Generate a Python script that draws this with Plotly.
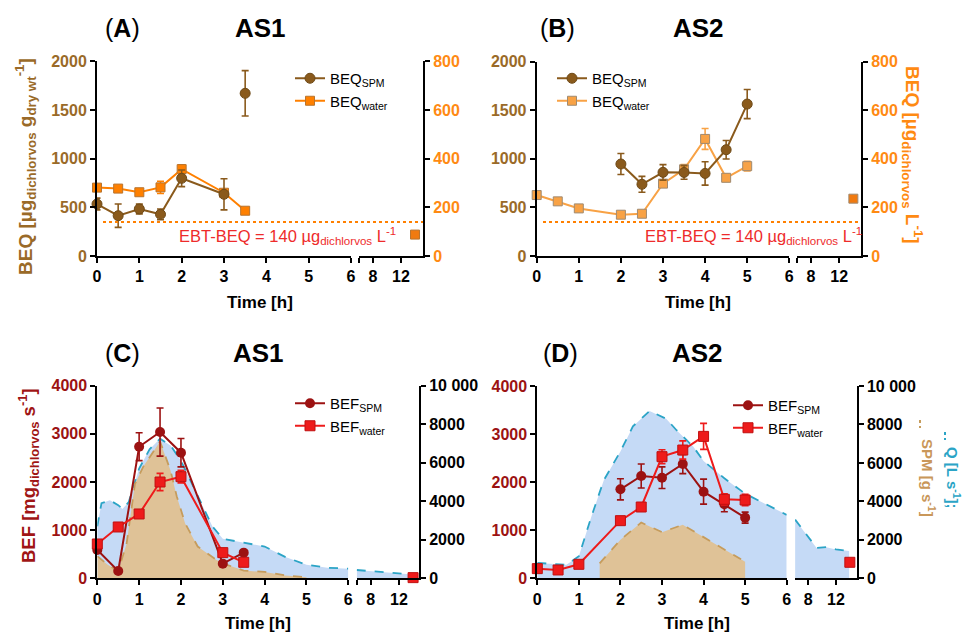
import plotly.graph_objects as go

W, H = 964, 633
FONT = "Liberation Sans, Arial, Helvetica, sans-serif"

# ---------------- data ----------------
# (A) AS1 - BEQ
a_spm_t = [0, 0.5, 1, 1.5, 2, 3, 3.5]
a_spm = [534, 414, 483, 428, 798, 634, 1671]
a_spm_err = [60, 120, 50, 55, 85, 160, 233]
a_wat_t = [0, 0.5, 1, 1.5, 2, 3, 3.5]
a_wat = [281, 277, 262, 282, 357, 260, 186]
a_wat_err = [8, 6, 10, 25, 18, 12, 5]
a_wat_late_t = [14]
a_wat_late = [88]

# (B) AS2 - BEQ
b_spm_t = [2, 2.5, 3, 3.5, 4, 4.5, 5]
b_spm = [947, 738, 861, 860, 850, 1094, 1564]
b_spm_err = [108, 82, 80, 70, 120, 95, 150]
b_wat_t = [0, 0.5, 1, 2, 2.5, 3, 3.5, 4, 4.5, 5]
b_wat = [251, 225, 196, 170, 174, 298, 357, 482, 322, 370]
b_wat_err = [5, 5, 5, 5, 5, 8, 20, 43, 15, 20]
b_wat_late_t = [14]
b_wat_late = [236]

ebt_beq = 140  # µg dichlorvos / L

# (C) AS1 - BEF, discharge Q and SPM load
c_spm_t = [0, 0.5, 1, 1.5, 2, 3, 3.5]
c_spm = [588, 152, 2733, 3038, 2609, 304, 533]
c_spm_err = [30, 20, 290, 500, 295, 40, 30]
c_wat_t = [0, 0.5, 1, 1.5, 2, 3, 3.5]
c_wat = [713, 1066, 1336, 2000, 2111, 533, 332]
c_wat_err = [20, 20, 30, 180, 130, 30, 20]
c_wat_late_t = [14]
c_wat_late = [14]
c_q_t = [0, 0.1, 0.3, 0.5, 0.6, 0.75, 1, 1.25, 1.5, 1.75, 2, 2.25, 2.5, 2.75, 3,
         3.5, 4, 4.5, 5, 5.5, 6]
c_q = [2700, 3900, 4050, 3800, 3600, 3950, 5700, 6700, 7250, 6900, 6100, 4950,
       3800, 2700, 2050, 1850, 1650, 1100, 700, 550, 500]
c_q_late_t = [6, 8, 12, 13.9]
c_q_late = [430, 380, 280, 200]
c_sed_t = [0, 0.25, 0.5, 0.7, 0.9, 1.1, 1.5, 1.75, 1.9, 2.1, 2.4, 2.85, 3.1, 3.5,
           4, 4.5, 5]
c_sed = [1150, 700, 380, 1800, 4900, 5800, 7100, 5600, 4250, 2850, 1650, 950,
         700, 400, 330, 150, 50]

# (D) AS2 - BEF, discharge Q and SPM load
d_spm_t = [2, 2.5, 3, 3.5, 4, 4.5, 5]
d_spm = [1851, 2128, 2093, 2378, 1802, 1539, 1262]
d_spm_err = [220, 250, 225, 200, 260, 155, 115]
d_wat_t = [0, 0.5, 1, 2, 2.5, 3, 3.5, 4, 4.5, 5]
d_wat = [201, 173, 291, 1199, 1483, 2530, 2668, 2952, 1643, 1629]
d_wat_err = [10, 10, 15, 20, 30, 145, 190, 270, 115, 120]
d_wat_late_t = [14]
d_wat_late = [333]
d_q_t = [0, 0.5, 0.7, 1, 1.3, 1.6, 2, 2.3, 2.7, 3.1, 3.35, 3.75, 4, 4.5, 5, 5.5, 6]
d_q = [800, 720, 700, 1150, 3200, 5100, 6600, 7900, 8700, 8300, 7700, 6850, 6100,
       5200, 4400, 3850, 3300]
d_q_late_t = [6.1, 8, 9.2, 10.6, 12, 13.9]
d_q_late = [3050, 2150, 1580, 1620, 1500, 1420]
d_sed_t = [1.5, 2, 2.5, 3, 3.5, 4, 4.5, 5]
d_sed = [780, 2000, 2900, 2400, 2780, 2150, 1500, 860]

x_ticks_main = [0, 1, 2, 3, 4, 5, 6]
x_ticks_late = [6, 8, 12]
x_ticktext_late = ["", "8", "12"]
beq_left_ticks = [0, 500, 1000, 1500, 2000]
beq_right_ticks = [0, 200, 400, 600, 800]
bef_left_ticks = [0, 1000, 2000, 3000, 4000]
q_ticks = [0, 2000, 4000, 6000, 8000, 10000]
q_ticktext = ["0", "2000", "4000", "6000", "8000", "10 000"]

# ---------------- colours ----------------
BROWN = "#8a5a1c"
BROWN_TXT = "#9a6a28"
ORANGE = "#ff8000"
ORANGE_TXT = "#ff8a12"
ORANGE_LT = "#f8a245"
DARKRED = "#9c1212"
RED = "#ee1b1b"
BLUE_FILL = "#c5daf6"
TEAL = "#2ba4c6"
TAN_FILL = "#dfc297"
TAN_LINE = "#c69c5c"
EBT_RED = "#ee2b2b"

TICK = 16

fig = go.Figure()


def aid(n):
    return "" if n == 1 else str(n)


# per panel k: x(2k+1)=main segment, x(2k+2)=late segment,
#              y(2k+1)=right axis (base), y(2k+2)=left axis (overlay, drawn on top)
def axes(k, seg, side):
    xn = 2 * k + (1 if seg == 0 else 2)
    yn = 2 * k + (2 if side == 0 else 1)
    return "x" + aid(xn), "y" + aid(yn)


def add(k, seg, side, **kw):
    xa, ya = axes(k, seg, side)
    kw.setdefault("cliponaxis", False)
    fig.add_trace(go.Scatter(xaxis=xa, yaxis=ya, **kw))


def err(arr, color):
    return dict(type="data", array=arr, color=color, thickness=1.6, width=3.5)


legends = ["legend", "legend2", "legend3", "legend4"]

# ----- Panel A -----
add(0, 0, 1, x=a_wat_t, y=a_wat, mode="lines+markers", name="BEQ<sub>water</sub>",
    legend="legend", legendrank=2, line=dict(color=ORANGE, width=2),
    marker=dict(symbol="square", size=9, color=ORANGE, line=dict(color="#b8742e", width=1)),
    error_y=err(a_wat_err, ORANGE))
add(0, 1, 1, x=a_wat_late_t, y=a_wat_late, mode="markers", showlegend=False,
    marker=dict(symbol="square", size=9, color="#f07a10", line=dict(color="#b8742e", width=1)))
add(0, 0, 0, x=a_spm_t[:6], y=a_spm[:6], mode="lines+markers",
    name="BEQ<sub>SPM</sub>", legend="legend", legendrank=1,
    line=dict(color=BROWN, width=2),
    marker=dict(symbol="circle", size=10, color=BROWN, line=dict(color="#6e4a18", width=1)),
    error_y=err(a_spm_err[:6], BROWN))
add(0, 0, 0, x=a_spm_t[6:], y=a_spm[6:], mode="markers", showlegend=False,
    marker=dict(symbol="circle", size=10, color=BROWN, line=dict(color="#6e4a18", width=1)),
    error_y=err(a_spm_err[6:], BROWN))

# ----- Panel B -----
add(1, 0, 1, x=b_wat_t, y=b_wat, mode="lines+markers", name="BEQ<sub>water</sub>",
    legend="legend2", legendrank=2, line=dict(color=ORANGE_LT, width=2),
    marker=dict(symbol="square", size=9, color=ORANGE_LT, line=dict(color="#a08a70", width=1)),
    error_y=err(b_wat_err, ORANGE_LT))
add(1, 1, 1, x=b_wat_late_t, y=b_wat_late, mode="markers", showlegend=False,
    marker=dict(symbol="square", size=9, color="#f07a10", line=dict(color="#a08a70", width=1)))
add(1, 0, 0, x=b_spm_t, y=b_spm, mode="lines+markers", name="BEQ<sub>SPM</sub>",
    legend="legend2", legendrank=1, line=dict(color=BROWN, width=2),
    marker=dict(symbol="circle", size=10, color=BROWN, line=dict(color="#6e4a18", width=1)),
    error_y=err(b_spm_err, BROWN))

# ----- Panel C & D (areas first, on the right axis) -----
for k, (qt, q, qlt, ql, st, s) in enumerate(
        [(c_q_t, c_q, c_q_late_t, c_q_late, c_sed_t, c_sed),
         (d_q_t, d_q, d_q_late_t, d_q_late, d_sed_t, d_sed)], start=2):
    add(k, 0, 1, x=qt, y=q, mode="lines", fill="tozeroy", fillcolor=BLUE_FILL,
        line=dict(color=TEAL, width=1.8, dash="dash"), showlegend=False, cliponaxis=True)
    add(k, 1, 1, x=qlt, y=ql, mode="lines", fill="tozeroy", fillcolor=BLUE_FILL,
        line=dict(color=TEAL, width=1.8, dash="dash"), showlegend=False, cliponaxis=True)
    add(k, 0, 1, x=st, y=s, mode="lines", fill="tozeroy", fillcolor=TAN_FILL,
        line=dict(color=TAN_LINE, width=1.8, dash="dash"), showlegend=False, cliponaxis=True)

for k, (spt, sp, spe, wt, wv, we, lt, lv, leg) in enumerate(
        [(c_spm_t, c_spm, c_spm_err, c_wat_t, c_wat, c_wat_err, c_wat_late_t, c_wat_late, "legend3"),
         (d_spm_t, d_spm, d_spm_err, d_wat_t, d_wat, d_wat_err, d_wat_late_t, d_wat_late, "legend4")],
        start=2):
    add(k, 0, 0, x=spt, y=sp, mode="lines+markers", name="BEF<sub>SPM</sub>", legend=leg,
        legendrank=1, line=dict(color=DARKRED, width=2),
        marker=dict(symbol="circle", size=10, color=DARKRED),
        error_y=err(spe, DARKRED))
    add(k, 0, 0, x=wt, y=wv, mode="lines+markers", name="BEF<sub>water</sub>", legend=leg,
        legendrank=2, line=dict(color=RED, width=2),
        marker=dict(symbol="square", size=10, color=RED, line=dict(color="#c01010", width=1)),
        error_y=err(we, RED))
    add(k, 1, 0, x=lt, y=lv, mode="markers", showlegend=False,
        marker=dict(symbol="square", size=10, color=RED, line=dict(color="#c01010", width=1)))

# ---------------- axes ----------------
panels = [
    dict(xa=(97, 351), xb=(359, 423), yd=(61.3, 256), xbr=[6, 15.14],
         yl=[0, 2000], ylt=beq_left_ticks, ylc=BROWN_TXT,
         yr=[0, 800], yrt=beq_right_ticks, yrtt=None, yrc=ORANGE_TXT),
    dict(xa=(536.7, 789.3), xb=(796.7, 861), yd=(61.7, 256), xbr=[6, 15.08],
         yl=[0, 2000], ylt=beq_left_ticks, ylc=BROWN_TXT,
         yr=[0, 800], yrt=beq_right_ticks, yrtt=None, yrc=ORANGE_TXT),
    dict(xa=(97.3, 348.3), xb=(356.7, 419), yd=(385.7, 578.3), xbr=[6, 14.84],
         yl=[0, 4000], ylt=bef_left_ticks, ylc=DARKRED,
         yr=[0, 10000], yrt=q_ticks, yrtt=q_ticktext, yrc="black"),
    dict(xa=(537.3, 786.7), xb=(795, 856.7), yd=(386, 578.3), xbr=[6.08, 14.99],
         yl=[0, 4000], ylt=bef_left_ticks, ylc=DARKRED,
         yr=[0, 10000], yrt=q_ticks, yrtt=q_ticktext, yrc="black"),
]

common = dict(showgrid=False, zeroline=False, showline=True, linecolor="black",
              linewidth=2, ticks="outside", ticklen=5, tickwidth=2, tickcolor="black",
              automargin=False)

lay = {}
for k, p in enumerate(panels):
    n1, n2 = 2 * k + 1, 2 * k + 2
    ydom = [1 - p["yd"][1] / H, 1 - p["yd"][0] / H]
    lay["xaxis" + aid(n1)] = dict(
        domain=[p["xa"][0] / W, p["xa"][1] / W], range=[0, 6], anchor="y" + aid(n1),
        tickvals=x_ticks_main, tickfont=dict(size=TICK, color="black", family=FONT, weight="bold"),
        **common)
    lay["xaxis" + aid(n2)] = dict(
        domain=[p["xb"][0] / W, p["xb"][1] / W], range=p["xbr"], anchor="y" + aid(n1),
        tickvals=x_ticks_late, ticktext=x_ticktext_late,
        tickfont=dict(size=TICK, color="black", family=FONT, weight="bold"), **common)
    # right axis = base
    yr = dict(domain=ydom, range=p["yr"], anchor="x" + aid(n2), side="right",
              tickvals=p["yrt"],
              tickfont=dict(size=TICK, color=p["yrc"], family=FONT, weight="bold"), **common)
    if p["yrtt"]:
        yr["ticktext"] = p["yrtt"]
    lay["yaxis" + aid(n1)] = yr
    # left axis = overlay (its traces drawn above)
    lay["yaxis" + aid(n2)] = dict(
        range=p["yl"], anchor="x" + aid(n1), overlaying="y" + aid(n1), side="left",
        tickvals=p["ylt"],
        tickfont=dict(size=TICK, color=p["ylc"], family=FONT, weight="bold"), **common)

fig.update_layout(**lay)

# ---------------- legends ----------------
leg_pos = [(330, 62), (592, 62), (330, 387), (768, 389)]
for name, (tx, ty) in zip(legends, leg_pos):
    fig.update_layout({name: dict(x=(tx - 40) / W, y=1 - ty / H, xanchor="left", yanchor="top",
                                  bgcolor="rgba(0,0,0,0)", font=dict(size=15, family=FONT, color="black"),
                                  tracegroupgap=0, itemwidth=30, traceorder="normal")})

# ---------------- reference line (EBT-BEQ, right axis) ----------------
shapes = []
for (x0, x1, yref) in [(103, 423, "y"), (543, 861, "y3")]:
    shapes.append(dict(type="line", xref="paper", yref=yref, x0=x0 / W, x1=x1 / W,
                       y0=ebt_beq, y1=ebt_beq, line=dict(color=ORANGE, width=2, dash="dot")))
# small dash keys for the Q / SPM axis title
shapes.append(dict(type="line", xref="paper", yref="paper", x0=920 / W, x1=920 / W,
                   y0=1 - 420 / H, y1=1 - 428 / H, line=dict(color=TAN_LINE, width=2, dash="dot")))
shapes.append(dict(type="line", xref="paper", yref="paper", x0=945 / W, x1=945 / W,
                   y0=1 - 432 / H, y1=1 - 440 / H, line=dict(color=TEAL, width=2, dash="dot")))
fig.update_layout(shapes=shapes)

# ---------------- annotations ----------------
ann = []


def A(text, px, py, size, color="black", angle=0, xanchor="center", yanchor="middle"):
    ann.append(dict(text=text, x=px / W, y=1 - py / H, xref="paper", yref="paper",
                    showarrow=False, textangle=angle, xanchor=xanchor, yanchor=yanchor,
                    font=dict(size=size, color=color, family=FONT)))


for lab, ttl, lx, tx, ty in [("A", "AS1", 123, 260, 28), ("B", "AS2", 557, 698, 28),
                             ("C", "AS1", 123, 258, 353), ("D", "AS2", 560, 697, 353)]:
    A("(<b>%s</b>)" % lab, lx, ty, 25)
    A("<b>%s</b>" % ttl, tx, ty, 26)

for x, y in [(260, 302), (698, 302), (258, 623), (697, 623)]:
    A("<b>Time [h]</b>", x, y, 17)

A("<b>BEQ [µg<sub>dichlorvos</sub> g<sub>dry wt</sub><sup>-1</sup>]</b>", 25, 167, 19,
  BROWN_TXT, angle=-90)
A("<b>BEQ [µg<sub>dichlorvos</sub> L<sup>-1</sup>]</b>", 913, 155, 19, ORANGE_TXT, angle=90)
A("<b>BEF [mg<sub>dichlorvos</sub> s<sup>-1</sup>]</b>", 28, 476, 18.5, "#a01515", angle=-90)
A("<b>SPM [g s<sup>-1</sup>]</b>", 928, 478, 15, "#c9975a", angle=90)
A("<b>Q [L s<sup>-1</sup>];</b>", 953, 478, 15, TEAL, angle=90)

A("EBT-BEQ = 140 µg<sub>dichlorvos</sub> L<sup>-1</sup>", 177, 236, 16.5, EBT_RED, xanchor="left")
A("EBT-BEQ = 140 µg<sub>dichlorvos</sub> L<sup>-1</sup>", 643, 236, 16.5, EBT_RED, xanchor="left")

fig.update_layout(
    annotations=ann,
    width=W, height=H,
    margin=dict(l=0, r=0, t=0, b=0, pad=0, autoexpand=False),
    paper_bgcolor="white", plot_bgcolor="white",
    font=dict(family=FONT, size=15, color="black"),
)

fig.write_html("out.html", config={"displayModeBar": False},
               post_script="document.body.style.margin='0';document.body.style.padding='0';")
